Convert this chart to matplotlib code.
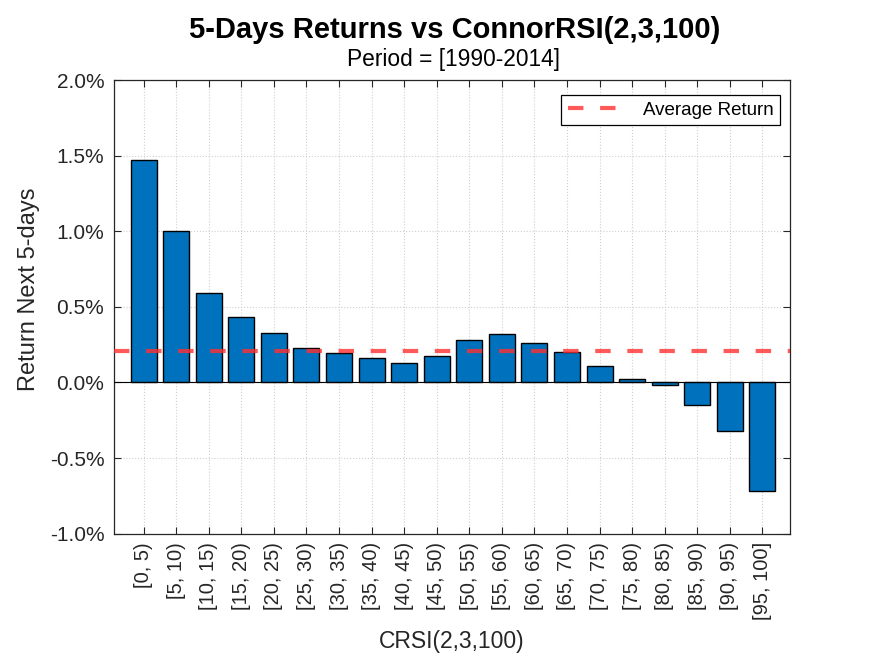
import numpy as np
import matplotlib.pyplot as plt

plt.rcParams['font.family'] = ['Liberation Sans', 'DejaVu Sans']

bins = ['[0, 5)', '[5, 10)', '[10, 15)', '[15, 20)', '[20, 25)', '[25, 30)',
        '[30, 35)', '[35, 40)', '[40, 45)', '[45, 50)', '[50, 55)', '[55, 60)',
        '[60, 65)', '[65, 70)', '[70, 75)', '[75, 80)', '[80, 85)', '[85, 90)',
        '[90, 95)', '[95, 100]']
returns = [1.47, 1.005, 0.595, 0.43, 0.33, 0.225, 0.198, 0.165, 0.132, 0.172,
           0.278, 0.318, 0.258, 0.199, 0.106, 0.02, -0.02, -0.146, -0.318, -0.715]
avg_return = 0.206

x = np.arange(1, len(bins) + 1)

fig = plt.figure(figsize=(8.75, 6.56), dpi=100)
ax = fig.add_axes([0.1303, 0.1866, 0.7726, 0.6911])

ax.bar(x, returns, width=0.8, color='#0072BD', edgecolor='black', linewidth=1.0, zorder=2)
ax.axhline(0, color='black', linewidth=0.8, zorder=3)
ax.axhline(avg_return, color='#FF3030', alpha=0.8, linewidth=3, dashes=(3.7, 4),
           label='Average Return', zorder=4)

ax.set_xlim(0.09, 20.85)
ax.set_ylim(-1.0, 2.0)
ax.set_xticks(x)
ax.set_xticklabels(bins, rotation=90, fontsize=14.5)
yt = np.arange(-1.0, 2.01, 0.5)
ax.set_yticks(yt)
ax.set_yticklabels(['%.1f%%' % v for v in yt], fontsize=15)

ax.grid(True, linestyle=':', color='#d0d0d0', linewidth=0.8, zorder=0)
ax.set_axisbelow(True)
ax.tick_params(direction='in', length=5, width=0.8, top=True, right=True, colors='#262626')
ax.tick_params(axis='x', pad=6)
ax.tick_params(axis='y', pad=7)
for s in ax.spines.values():
    s.set_color('#262626')
    s.set_linewidth(0.9)

ax.set_xlabel('CRSI(2,3,100)', fontsize=16.5, color='#262626', labelpad=7)
ax.set_ylabel('Return Next 5-days', fontsize=17, color='#262626')
ax.yaxis.set_label_coords(-0.11, 0.54)

fig.text(0.52, 1 - 38 / 656, '5-Days Returns vs ConnorRSI(2,3,100)', ha='center',
         va='baseline', fontsize=21, fontweight='bold')
fig.text(0.518, 1 - 66 / 656, 'Period = [1990-2014]', ha='center', va='baseline', fontsize=16.4)

leg = ax.legend(loc='upper right', fontsize=13.5, fancybox=False, framealpha=1,
                edgecolor='black', borderpad=0.35, handlelength=3.2,
                borderaxespad=0, bbox_to_anchor=(0.985, 0.967))
leg.get_frame().set_linewidth(0.9)

fig.savefig('out.png', dpi=100)
